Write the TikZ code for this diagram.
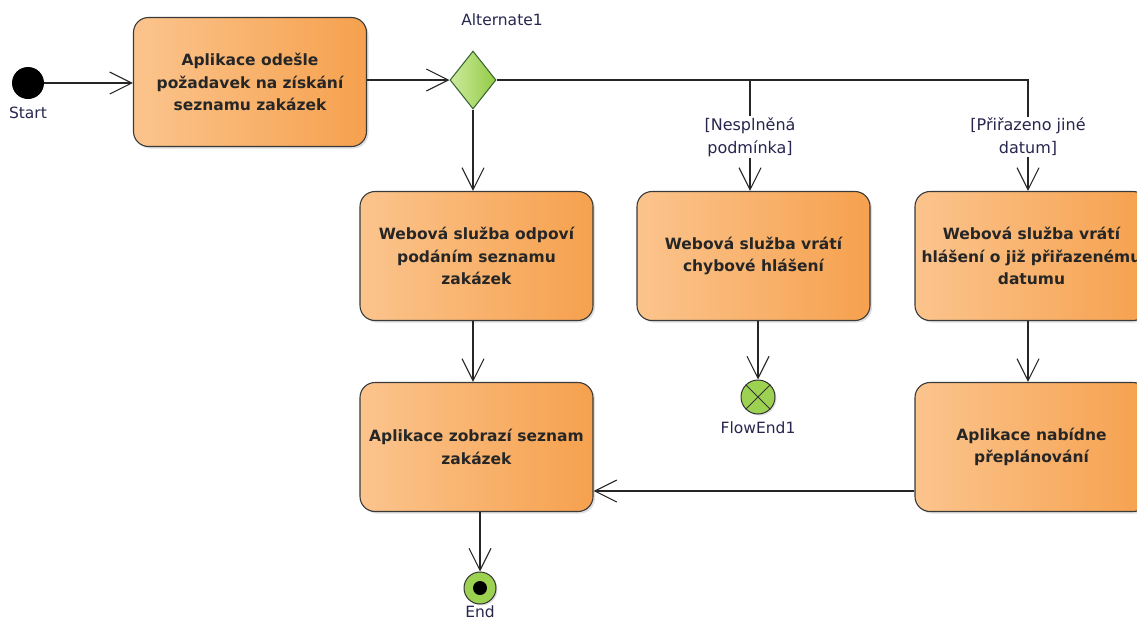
\documentclass[tikz,border=0pt]{standalone}
\usepackage{fontspec}
\setmainfont{DejaVu Sans}
\usetikzlibrary{shapes.geometric,arrows.meta,shadows,calc}
\definecolor{actL}{HTML}{FBC48D}
\definecolor{actR}{HTML}{F6A14E}
\definecolor{actB}{HTML}{3A3A3A}
\definecolor{decL}{HTML}{CDEA9E}
\definecolor{decR}{HTML}{93CB45}
\definecolor{endG}{HTML}{9DD152}
\definecolor{lblC}{HTML}{26264F}
\definecolor{txtC}{HTML}{262626}
\begin{document}
\begin{tikzpicture}[x=1pt,y=-1pt,
  action/.style={rectangle, rounded corners=15pt, draw=actB, line width=1.1pt,
    left color=actL, right color=actR, minimum width=233pt, minimum height=129pt,
    inner sep=0pt, align=center, text=txtC,
    font=\fontsize{15.5}{22.5}\selectfont\bfseries,
    drop shadow={shadow xshift=2pt, shadow yshift=-2pt, opacity=0.25}},
  decision/.style={diamond, draw=actB!80!green, line width=1pt, left color=decL,
    right color=decR, minimum width=46pt, minimum height=58pt, inner sep=0pt},
  flow/.style={draw=black!85, line width=1.1pt,
    -{Straight Barb[length=22pt,width=22pt,line width=1.1pt]}},
  lbl/.style={text=lblC, font=\fontsize{15.5}{18}\selectfont, inner sep=1pt},
  guard/.style={text=lblC, font=\fontsize{16}{23}\selectfont, fill=white,
    align=center, inner sep=1pt}
]
\useasboundingbox (0,0) rectangle (1137,622);
\clip (0,0) rectangle (1137,622);

% initial node and activities
\node[circle, fill=black, minimum size=32pt, inner sep=0pt] (start) at (28,83) {};
\node[lbl] (startl) at (28,113) {Start};

\node[action] (b1) at (250,82) {Aplikace odešle\\požadavek na získání\\seznamu zakázek};
\node[decision] (dia) at (473,80) {};
\node[lbl] (dial) at (502,20) {Alternate1};

\node[action] (b2) at (476.5,256) {Webová služba odpoví\\podáním seznamu\\zakázek};
\node[action] (b3) at (753.5,256) {Webová služba vrátí\\chybové hlášení};
\node[action] (b4) at (1031.5,256) {Webová služba vrátí\\hlášení o již přiřazenému\\datumu};
\node[action] (b5) at (476.5,447) {Aplikace zobrazí seznam\\zakázek};
\node[action] (b6) at (1031.5,447) {Aplikace nabídne\\přeplánování};

% final nodes
\node[circle, draw=black!80, line width=1pt, fill=endG, minimum size=34pt,
  inner sep=0pt, drop shadow={shadow xshift=1.5pt, shadow yshift=-1.5pt, opacity=0.25}] (fe) at (758,397) {};
\draw[line width=1pt, black!80] (fe.north west) -- (fe.south east)
  (fe.north east) -- (fe.south west);
\node[lbl] (fel) at (758,428) {FlowEnd1};

\node[circle, draw=black!80, line width=1pt, fill=endG, minimum size=32pt,
  inner sep=0pt, drop shadow={shadow xshift=1.5pt, shadow yshift=-1.5pt, opacity=0.25}] (endn) at (480,588) {};
\node[circle, fill=black, minimum size=14pt, inner sep=0pt] (endd) at (endn) {};
\node[lbl] (endl) at (480,612) {End};

% control flows
\draw[flow] (start) -- (start -| b1.west);
\draw[flow] (dia -| b1.east) -- (dia.west);
\draw[flow] (dia.south) -- (dia.south |- b2.north);
\draw[flow] (dia.east) -| ([xshift=-3.5pt]b4.north);
\draw[flow] ([xshift=-3.5pt]b3.north |- dia.east) -- ([xshift=-3.5pt]b3.north);
\draw[flow] (fe |- b3.south) -- (fe.north);
\draw[flow] ([xshift=-3.5pt]b2.south) -- ([xshift=-3.5pt]b5.north);
\draw[flow] ([xshift=-3.5pt]b4.south) -- ([xshift=-3.5pt]b6.north);
\draw[flow] ([yshift=-44pt]b6.west) -- ([yshift=-44pt]b5.east);
\draw[flow] (endn |- b5.south) -- (endn.north);

% guards
\node[guard] (g1) at (750,137) {[Nesplněná\\podmínka]};
\node[guard] (g2) at (1028,137) {[Přiřazeno jiné\\datum]};
\end{tikzpicture}
\end{document}
